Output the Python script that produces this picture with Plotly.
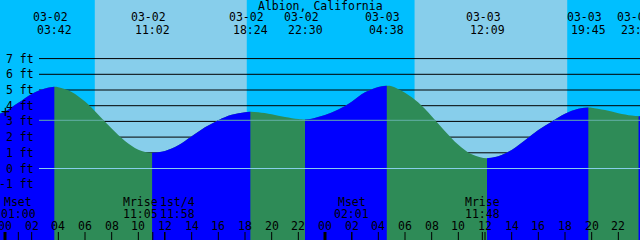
import plotly.graph_objects as go

location = "Albion, California"

# Tide extremes
event_dates = ["03-02", "03-02", "03-02", "03-02", "03-03", "03-03", "03-03", "03-03"]
event_times = ["03:42", "11:02", "18:24", "22:30", "04:38", "12:09", "19:45", "23:31"]
event_ft = [5.21, 1.00, 3.62, 3.12, 5.27, 0.65, 3.88, 3.33]
event_kind = ["H", "L", "H", "L", "H", "L", "H", "L"]

# Water level readings (hours since 03-02 00:00, feet)
level_hours = [-0.375, 0, 1, 2, 3, 4, 5, 6, 7, 8, 9, 10, 12, 13, 14, 15, 16, 17, 18,
               19, 20, 21, 22, 23, 24, 25, 26, 27, 28, 29, 30, 31, 32, 33, 34, 35,
               37, 38, 39, 40, 41, 42, 43, 44, 45, 46, 47, 47.625]
level_ft = [3.50, 3.62, 4.18, 4.75, 5.10, 5.18, 4.88, 4.26, 3.43, 2.54, 1.75, 1.20,
            1.12, 1.48, 2.05, 2.62, 3.08, 3.42, 3.59,
            3.59, 3.46, 3.28, 3.15, 3.17, 3.40, 3.75, 4.25, 4.85, 5.19, 5.24, 4.82,
            4.20, 3.33, 2.38, 1.52, 0.91,
            0.78, 1.18, 1.80, 2.45, 2.98, 3.48, 3.80, 3.87, 3.72, 3.52, 3.37, 3.33]

sun_rise = [("03-02", "06:44"), ("03-03", "06:43")]
sun_set = [("03-02", "18:08"), ("03-03", "18:10")]

moon_names = ["Mset", "Mrise", "1st/4", "Mset", "Mrise"]
moon_dates = ["03-02", "03-02", "03-02", "03-03", "03-03"]
moon_times = ["01:00", "11:05", "11:58", "02:01", "11:48"]

tick_hours = list(range(0, 48, 2))
tick_labels = ["00", "02", "04", "06", "08", "10", "12", "14", "16", "18", "20", "22",
               "00", "02", "04", "06", "08", "10", "12", "14", "16", "18", "20", "22"]

ft_levels = [-1, 0, 1, 2, 3, 4, 5, 6, 7]
ft_labels = ["-1 ft", "0 ft", "1 ft", "2 ft", "3 ft", "4 ft", "5 ft", "6 ft", "7 ft"]
datum_ft = 0.0
msl_ft = 3.07

# colours
NIGHT = "#00BFFF"
DAY = "#87CEEB"
RISE = "#0000FF"
FALL = "#2E8B57"
DATUM_C = "#87CEEB"
MSL_C = "#63AFA8"

W, H = 640, 240
XR = [-0.375, 47.625]
YR = [-4.554, 10.732]
FONT = dict(family="DejaVu Sans Mono", size=11.5, color="black")


def to_h(date, time):
    day = (int(date.split("-")[1]) - 2) * 24
    hh, mm = time.split(":")
    return day + int(hh) + int(mm) / 60.0


def py(p):  # pixel row -> paper y
    return 1 - p / H


def px_to_h(p):
    return XR[0] + p / W * (XR[1] - XR[0])


ev_h = [to_h(d, t) for d, t in zip(event_dates, event_times)]
pts = sorted(zip(level_hours + ev_h, level_ft + event_ft))
all_x = [p[0] for p in pts]
all_y = [p[1] for p in pts]

fig = go.Figure()

# base water (falling colour) across everything
fig.add_trace(go.Scatter(x=[all_x[0], all_x[-1]], y=[-10, -10], mode="lines",
                         line=dict(width=0), hoverinfo="skip", showlegend=False))
fig.add_trace(go.Scatter(x=all_x, y=all_y, mode="lines", line=dict(width=0, shape="spline"),
                         fill="tonexty", fillcolor=FALL, hoverinfo="skip", showlegend=False))

# rising segments
bounds = [all_x[0]] + ev_h + [all_x[-1]]
kinds = ["L"] + event_kind + ["H"]
for i in range(len(bounds) - 1):
    a, b = bounds[i], bounds[i + 1]
    if kinds[i + 1] == "H" and b > a:
        sx = [x for x in all_x if a <= x <= b]
        sy = [y for x, y in zip(all_x, all_y) if a <= x <= b]
        fig.add_trace(go.Scatter(x=[sx[0], sx[-1]], y=[-10, -10], mode="lines",
                                 line=dict(width=0), hoverinfo="skip", showlegend=False))
        fig.add_trace(go.Scatter(x=sx, y=sy, mode="lines", line=dict(width=0, shape="spline"),
                                 fill="tonexty", fillcolor=RISE, hoverinfo="skip",
                                 showlegend=False))

shapes = []
# daylight bands
for (d1, t1), (d2, t2) in zip(sun_rise, sun_set):
    shapes.append(dict(type="rect", xref="x", yref="paper", x0=to_h(d1, t1), x1=to_h(d2, t2),
                       y0=0, y1=1, fillcolor=DAY, line=dict(width=0), layer="below"))
# grid lines (behind water)
grid_x0 = 39 / W
for lv in ft_levels:
    shapes.append(dict(type="line", xref="paper", yref="y", x0=grid_x0, x1=1, y0=lv, y1=lv,
                       line=dict(color="black", width=1), layer="below"))

# datum line over water
h_start = px_to_h(39)
shapes.append(dict(type="line", xref="x", yref="y", x0=h_start, x1=XR[1], y0=datum_ft,
                   y1=datum_ft, line=dict(color=DATUM_C, width=1), layer="above"))

# mean sea level line, only where water is above it
segs = []
inside = all_y[0] > msl_ft
start = all_x[0] if inside else None
for i in range(1, len(all_x)):
    y0, y1 = all_y[i - 1], all_y[i]
    if (y0 > msl_ft) != (y1 > msl_ft):
        xc = all_x[i - 1] + (msl_ft - y0) / (y1 - y0) * (all_x[i] - all_x[i - 1])
        if y1 > msl_ft:
            start = xc
        else:
            segs.append((start, xc))
            start = None
if start is not None:
    segs.append((start, all_x[-1]))
for a, b in segs:
    a = max(a, h_start)
    if b > a:
        shapes.append(dict(type="line", xref="x", yref="y", x0=a, x1=b, y0=msl_ft, y1=msl_ft,
                           line=dict(color=MSL_C, width=1), layer="above"))

# bottom tick marks
moon_h = [to_h(d, t) for d, t in zip(moon_dates, moon_times)]
for th in tick_hours + moon_h:
    wid = 3 if th % 24 == 0 else 1
    shapes.append(dict(type="line", xref="x", yref="paper", x0=th, x1=th, y0=0, y1=py(232),
                       line=dict(color="black", width=wid), layer="above"))

ann = []
ann.append(dict(text=location, xref="paper", yref="paper", x=0.5, y=py(6), showarrow=False,
                xanchor="center", yanchor="middle", font=FONT))
for d, t, h in zip(event_dates, event_times, ev_h):
    ann.append(dict(text=d, xref="x", yref="paper", x=h, y=py(17.5), xshift=-4,
                    showarrow=False, xanchor="center", yanchor="middle", font=FONT))
    ann.append(dict(text=t, xref="x", yref="paper", x=h, y=py(29.5),
                    showarrow=False, xanchor="center", yanchor="middle", font=FONT))

# moon labels, pushed apart when they collide
pxh = W / (XR[1] - XR[0])
shifts = [0.0] * len(moon_h)
for i in range(len(moon_h) - 1):
    gap = (moon_h[i + 1] - moon_h[i]) * pxh
    if gap < 37:
        push = (37 - gap) / 2
        shifts[i] -= push
        shifts[i + 1] += push
for n, t, h, s in zip(moon_names, moon_times, moon_h, shifts):
    ann.append(dict(text=n, xref="x", yref="paper", x=h, y=py(202), xshift=s,
                    showarrow=False, xanchor="center", yanchor="middle", font=FONT))
    ann.append(dict(text=t, xref="x", yref="paper", x=h, y=py(214), xshift=s,
                    showarrow=False, xanchor="center", yanchor="middle", font=FONT))

for th, tl in zip(tick_hours, tick_labels):
    ann.append(dict(text=tl, xref="x", yref="paper", x=th, y=py(226),
                    showarrow=False, xanchor="center", yanchor="middle", font=FONT))

for lv, lb in zip(ft_levels, ft_labels):
    ann.append(dict(text=lb, xref="paper", yref="y", x=36 / W, y=lv, showarrow=False,
                    xanchor="right", yanchor="middle", font=FONT))

# marker at the start of the day
ann.append(dict(text="+", xref="x", yref="y", x=ev_h[0] - ev_h[0], y=level_ft[1],
                showarrow=False, xanchor="center", yanchor="middle",
                font=dict(family="DejaVu Sans Mono", size=15, color="black")))

fig.update_layout(
    width=W, height=H, margin=dict(l=0, r=0, t=0, b=0, pad=0),
    paper_bgcolor=NIGHT, plot_bgcolor=NIGHT,
    xaxis=dict(range=XR, visible=False, showgrid=False, zeroline=False, fixedrange=True),
    yaxis=dict(range=YR, visible=False, showgrid=False, zeroline=False, fixedrange=True),
    shapes=shapes, annotations=ann, showlegend=False, hovermode=False,
)

fig.write_html("out.html", config={"displayModeBar": False, "staticPlot": True})
